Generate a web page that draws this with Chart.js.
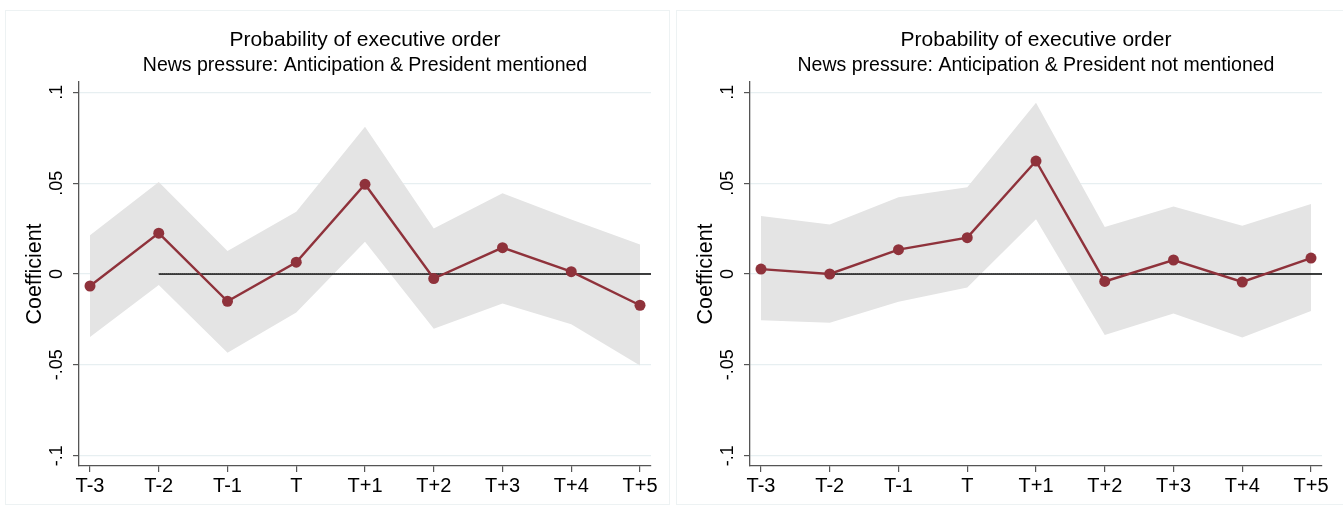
<!DOCTYPE html>
<html>
<head>
<meta charset="utf-8">
<script src="https://cdn.jsdelivr.net/npm/chart.js@4/dist/chart.umd.min.js"></script>
<style>
  html, body { margin: 0; padding: 0; background: #fff; }
  #wrap { position: relative; width: 1343px; height: 521px; overflow: hidden; }
  .panel { position: absolute; top: 0; width: 671px; height: 521px; }
  .frame { position: absolute; border: 1px solid #edf2f3; box-sizing: border-box; }
</style>
</head>
<body>
<div id="wrap">
  <div class="frame" style="left:5px; top:10px; width:665px; height:495px;"></div>
  <div class="frame" style="left:676px; top:10px; width:668px; height:495px;"></div>
  <div class="panel" style="left:0px;"><canvas id="c1" width="671" height="521"></canvas></div>
  <div class="panel" style="left:671px;"><canvas id="c2" width="671" height="521"></canvas></div>
</div>
<script>
// Event-time categories around the executive order
const categories = ['T-3', 'T-2', 'T-1', 'T', 'T+1', 'T+2', 'T+3', 'T+4', 'T+5'];

// Y-axis ticks and their printed labels
const yTickValues = [-0.1, -0.05, 0, 0.05, 0.1];
const yTickLabels = ['-.1', '-.05', '0', '.05', '.1'];

// Panel 1: president mentioned
const mentionedCoef  = [-0.0066, 0.0225, -0.0150, 0.0065, 0.0494, -0.0025, 0.0145, 0.0013, -0.0172];
const mentionedUpper = [0.0214, 0.0506, 0.0127, 0.0343, 0.0810, 0.0251, 0.0445, 0.0300, 0.0162];
const mentionedLower = [-0.0347, -0.0061, -0.0434, -0.0212, 0.0177, -0.0301, -0.0162, -0.0277, -0.0504];

// Panel 2: president not mentioned
const notMentionedCoef  = [0.0027, 0.0000, 0.0134, 0.0200, 0.0622, -0.0041, 0.0077, -0.0044, 0.0088];
const notMentionedUpper = [0.0319, 0.0273, 0.0423, 0.0478, 0.0943, 0.0259, 0.0371, 0.0265, 0.0386];
const notMentionedLower = [-0.0254, -0.0268, -0.0153, -0.0074, 0.0302, -0.0336, -0.0217, -0.0349, -0.0204];

// Reference line at zero: solid from T-2 to the axis end, dotted overlay to T+4
const refValue = 0;
const refFrom = 'T-2';
const refDottedTo = 'T+4';

const titleText = 'Probability of executive order';
const subtitleMentioned = 'News pressure: Anticipation & President mentioned';
const subtitleNotMentioned = 'News pressure: Anticipation & President not mentioned';
const yAxisTitle = 'Coefficient';

const FONT = "'Liberation Sans', Arial, Helvetica, sans-serif";
const LINE_COLOR = '#8f323b';
const BAND_COLOR = '#e4e4e4';
const AXIS_COLOR = '#555555';
const GRID_COLOR = '#e7eff1';
const Y_EXTENT = 0.1057;

function toPoints(values) {
  return values.map((v, i) => ({ x: i, y: v }));
}

// Titles, rotated y labels and the zero reference line
const decorPlugin = {
  id: 'decor',
  beforeDatasetDraw(chart, args) {
    if (args.index !== 2) return;
    const { ctx, chartArea, scales } = chart;
    const y = Math.round(scales.y.getPixelForValue(refValue));
    const x0 = scales.x.getPixelForValue(categories.indexOf(refFrom));
    const x1 = scales.x.getPixelForValue(categories.indexOf(refDottedTo));
    ctx.save();
    ctx.strokeStyle = '#000';
    ctx.lineWidth = 1.4;
    ctx.beginPath();
    ctx.moveTo(x0, y);
    ctx.lineTo(chartArea.right, y);
    ctx.stroke();
    ctx.strokeStyle = 'rgba(110,110,110,0.9)';
    ctx.lineWidth = 0.8;
    ctx.setLineDash([1, 1]);
    ctx.beginPath();
    ctx.moveTo(x0, y - 0.6);
    ctx.lineTo(x1, y - 0.6);
    ctx.stroke();
    ctx.restore();
  },
  afterDraw(chart, args, opts) {
    const { ctx, chartArea, scales } = chart;
    const cx = (chartArea.left + chartArea.right) / 2;
    ctx.save();
    ctx.fillStyle = '#000';
    ctx.textAlign = 'center';
    ctx.textBaseline = 'alphabetic';
    ctx.font = '21px ' + FONT;
    ctx.fillText(titleText, cx, 46);
    ctx.font = '19.5px ' + FONT;
    ctx.fillText(opts.subtitle, cx, 71);

    ctx.font = '18px ' + FONT;
    ctx.textBaseline = 'middle';
    yTickValues.forEach((v, i) => {
      const py = scales.y.getPixelForValue(v);
      ctx.save();
      ctx.translate(57, py);
      ctx.rotate(-Math.PI / 2);
      ctx.fillText(yTickLabels[i], 0, 0);
      ctx.restore();
    });
    ctx.font = '21.5px ' + FONT;
    ctx.save();
    ctx.translate(35, (chartArea.top + chartArea.bottom) / 2);
    ctx.rotate(-Math.PI / 2);
    ctx.fillText(yAxisTitle, 0, 0);
    ctx.restore();
    ctx.restore();
  }
};

function makeChart(id, coef, upper, lower, subtitle) {
  return new Chart(document.getElementById(id), {
    type: 'line',
    data: {
      datasets: [
        { data: toPoints(upper), order: 3, borderWidth: 0, borderColor: 'transparent', pointRadius: 0,
          backgroundColor: BAND_COLOR, fill: '+1', tension: 0 },
        { data: toPoints(lower), order: 2, borderWidth: 0, borderColor: 'transparent', pointRadius: 0,
          backgroundColor: BAND_COLOR, fill: false, tension: 0 },
        { data: toPoints(coef), order: 0, borderColor: LINE_COLOR, borderWidth: 2.4,
          pointRadius: 5.5, pointBackgroundColor: LINE_COLOR, pointBorderColor: LINE_COLOR,
          pointBorderWidth: 0, fill: false, tension: 0 }
      ]
    },
    options: {
      responsive: false,
      animation: false,
      devicePixelRatio: 1,
      layout: { padding: { top: 82, right: 20, bottom: 0, left: 0 } },
      plugins: {
        legend: { display: false },
        tooltip: { enabled: false },
        filler: { drawTime: 'beforeDatasetsDraw' },
        decor: { subtitle: subtitle }
      },
      scales: {
        x: {
          type: 'linear',
          min: -0.16,
          max: categories.length - 1 + 0.16,
          afterBuildTicks: (s) => { s.ticks = categories.map((c, i) => ({ value: i })); },
          afterFit: (s) => { s.height = 55; },
          ticks: {
            autoSkip: false,
            maxRotation: 0,
            minRotation: 0,
            padding: 2,
            color: '#000',
            font: { family: FONT, size: 20 },
            callback: (v) => categories[v]
          },
          grid: { drawOnChartArea: false, color: AXIS_COLOR, tickColor: AXIS_COLOR, tickLength: 6, lineWidth: 1.2 },
          border: { color: AXIS_COLOR, width: 1.3 }
        },
        y: {
          min: -Y_EXTENT,
          max: Y_EXTENT,
          afterBuildTicks: (s) => { s.ticks = yTickValues.map(v => ({ value: v })); },
          afterFit: (s) => { s.width = 79; },
          ticks: { display: false },
          grid: { color: GRID_COLOR, tickColor: AXIS_COLOR, tickLength: 6, lineWidth: 1.2 },
          border: { color: AXIS_COLOR, width: 1.3 }
        }
      }
    },
    plugins: [decorPlugin]
  });
}

makeChart('c1', mentionedCoef, mentionedUpper, mentionedLower, subtitleMentioned);
makeChart('c2', notMentionedCoef, notMentionedUpper, notMentionedLower, subtitleNotMentioned);
</script>
</body>
</html>
